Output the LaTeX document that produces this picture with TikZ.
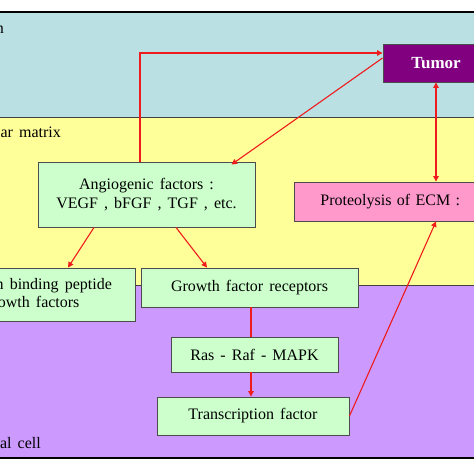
\documentclass[tikz,border=0pt]{standalone}
\usepackage{fontspec}
\setmainfont{Liberation Serif}
\usetikzlibrary{calc,arrows.meta}
\definecolor{zoneblue}{HTML}{BBE0E3}
\definecolor{zoneyellow}{HTML}{FFFF99}
\definecolor{zonepurple}{HTML}{CC99FF}
\definecolor{boxgreen}{HTML}{CCFFCC}
\definecolor{boxpink}{HTML}{FF99CC}
\definecolor{tumorpurple}{HTML}{800080}
\definecolor{arrowred}{HTML}{EE1C1C}
\newcommand{\boxfont}{\fontsize{16}{18.5}\selectfont\spaceskip=0.38em plus 0.1em\relax}

\begin{document}
\begin{tikzpicture}[x=1pt, y=-1pt,
    box/.style={draw=black!70, line width=0.9pt, fill=boxgreen, align=center, inner sep=0pt,
                font=\boxfont},
    tumorbox/.style={box, fill=tumorpurple, text=white, font=\fontsize{17}{19}\selectfont\bfseries},
    ecmbox/.style={box, fill=boxpink, anchor=west, text width=190pt, align=left,
                   inner xsep=26pt, minimum height=39pt},
    arrow/.style={-{Triangle[length=5.5pt, width=5.5pt]}, draw=arrowred, line width=1.1pt},
    link/.style={draw=arrowred, line width=1.1pt},
    zone/.style={font=\boxfont, inner sep=0pt}
  ]
    \useasboundingbox (0,0) rectangle (474,474);
    \clip (0,0) rectangle (474,474);

    % zones
    \fill[zoneblue]   (-5,12)  rectangle (479,117);
    \fill[zoneyellow] (-5,117) rectangle (479,285);
    \fill[zonepurple] (-5,285) rectangle (479,458);
    \draw[black!75, line width=0.8pt] (-5,117) -- (479,117);
    \draw[black!75, line width=0.8pt] (-5,285) -- (479,285);
    \draw[black, line width=2pt] (-5,12) -- (479,12);
    \draw[black, line width=2pt] (-5,458) -- (479,458);

    \node[zone, anchor=base east] (lumen) at (4,33)   {Tumor region};
    \node[zone, anchor=base east] (ecmz)  at (61,137) {Extracellular matrix};
    \node[zone, anchor=base east] (cell)  at (41,448) {Endothelial cell};

    % boxes
    \node[tumorbox, minimum width=106pt, minimum height=38pt] (tumor) at (436,63) {Tumor};
    \node[box, minimum width=217pt, minimum height=65pt] (angio) at (146.5,194.5)
      {Angiogenic factors :\\VEGF , bFGF , TGF , etc.};
    \node[ecmbox] (ecm) at (294,201.5) {Proteolysis of ECM :};
    \node[box, minimum width=206pt, minimum height=53pt] (hep) at (32,294.5)
      {Heparin binding peptide\\growth factors};
    \node[box, minimum width=217pt, minimum height=39pt] (gfr) at (249.5,287.5)
      {Growth factor receptors};
    \node[box, minimum width=167pt, minimum height=35pt] (ras) at (254.5,354.5)
      {Ras - Raf - MAPK};
    \node[box, minimum width=192pt, minimum height=38pt] (tf) at (253,416)
      {Transcription factor};

    % connectors
    \coordinate (bend) at (140,53);
    \coordinate (sig)  at (251,0);
    \draw[arrow] (angio.north -| bend) |- (tumor.west |- bend);
    \draw[arrow] ([yshift=5pt]tumor.west) -- ([xshift=-24pt,yshift=-3pt]angio.north east);
    \draw[arrow, {Triangle[length=5.5pt, width=5.5pt]}-{Triangle[length=5.5pt, width=5.5pt]}]
      (tumor.south) -- (tumor.south |- ecm.north);
    \draw[arrow] ([xshift=-52.5pt]angio.south) -- ([xshift=36pt]hep.north);
    \draw[arrow] ([xshift=29.5pt]angio.south) -- ([xshift=-42.5pt]gfr.north);
    \draw[link]  (gfr.south -| sig) -- (ras.north -| sig);
    \draw[arrow] (ras.south -| sig) -- (tf.north -| sig);
    \draw[arrow] (tf.east) -- (tumor.south |- ecm.south);
  \end{tikzpicture}
\end{document}
